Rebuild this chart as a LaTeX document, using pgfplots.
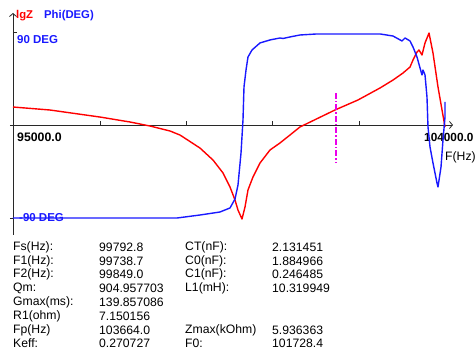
\documentclass[border=0pt]{standalone}
\usepackage{fontspec}
\setmainfont{Liberation Sans}
\usepackage{pgfplots}
\pgfplotsset{compat=1.18}
\usetikzlibrary{arrows.meta}
\definecolor{zred}{RGB}{255,0,0}
\definecolor{pblue}{RGB}{25,25,255}
\definecolor{mag}{RGB}{235,0,235}
\definecolor{axgray}{RGB}{40,40,40}
\tikzset{dt/.style={anchor=west,inner sep=0pt,font=\fontsize{12.2}{14}\selectfont}}
\begin{document}
\begin{tikzpicture}
\begin{axis}[width=475pt,height=351pt,scale only axis,
  xmin=94729.5,xmax=104614.2,ymin=-218.7,ymax=120.96,
  hide axis,clip=false]
\coordinate (sw) at (rel axis cs:0,0);
\coordinate (ne) at (rel axis cs:1,1);
% axes
\draw[axgray,line width=0.8pt,-{Straight Barb[length=3pt,width=7pt]}] (rel axis cs:10/475,1-125/351) -- (rel axis cs:453/475,1-125/351);
\draw[axgray,line width=0.8pt,-{Straight Barb[length=3pt,width=7pt]}] (rel axis cs:13/475,1-235/351) -- (rel axis cs:13/475,1-13/351);
\draw[axgray,line width=0.8pt] (rel axis cs:100/475,1-125/351) -- (rel axis cs:100/475,1-121/351);
\draw[axgray,line width=0.8pt] (rel axis cs:186/475,1-125/351) -- (rel axis cs:186/475,1-121/351);
\draw[axgray,line width=0.8pt] (rel axis cs:272/475,1-125/351) -- (rel axis cs:272/475,1-121/351);
\draw[axgray,line width=0.8pt] (rel axis cs:359/475,1-125/351) -- (rel axis cs:359/475,1-121/351);
\draw[axgray,line width=0.8pt] (rel axis cs:13/475,1-32/351) -- (rel axis cs:17/475,1-32/351);
\draw[axgray,line width=0.8pt] (rel axis cs:10/475,1-218/351) -- (rel axis cs:13/475,1-218/351);
% labels
\node[dt,text=zred,font=\fontsize{11.3}{13}\selectfont\bfseries] at (rel axis cs:16/475,1-16/351) {lgZ};
\node[dt,text=pblue,font=\fontsize{11.3}{13}\selectfont\bfseries] at (rel axis cs:44/475,1-16/351) {Phi(DEG)};
\node[dt,text=pblue,font=\fontsize{11.5}{13}\selectfont\bfseries] at (rel axis cs:17/475,1-40/351) {90 DEG};
\node[dt,text=pblue,font=\fontsize{11.5}{13}\selectfont\bfseries] at (rel axis cs:19/475,1-218/351) {-90 DEG};
\node[dt,font=\fontsize{12.3}{14}\selectfont\bfseries] at (rel axis cs:17/475,1-137/351) {95000.0};
\node[dt,font=\fontsize{11.8}{14}\selectfont\bfseries] at (rel axis cs:424/475,1-137/351) {104000.0};
\node[dt] at (rel axis cs:445/475,1-157/351) {F(Hz)};
% data table
\node[dt] at (rel axis cs:13/475,1-247/351) {Fs(Hz):};
\node[dt] at (rel axis cs:99/475,1-247/351) {99792.8};
\node[dt] at (rel axis cs:185/475,1-247/351) {CT(nF):};
\node[dt] at (rel axis cs:272/475,1-247/351) {2.131451};
\node[dt] at (rel axis cs:13/475,1-261/351) {F1(Hz):};
\node[dt] at (rel axis cs:99/475,1-261/351) {99738.7};
\node[dt] at (rel axis cs:185/475,1-261/351) {C0(nF):};
\node[dt] at (rel axis cs:272/475,1-261/351) {1.884966};
\node[dt] at (rel axis cs:13/475,1-274/351) {F2(Hz):};
\node[dt] at (rel axis cs:99/475,1-274/351) {99849.0};
\node[dt] at (rel axis cs:185/475,1-274/351) {C1(nF):};
\node[dt] at (rel axis cs:272/475,1-274/351) {0.246485};
\node[dt] at (rel axis cs:13/475,1-288/351) {Qm:};
\node[dt] at (rel axis cs:99/475,1-288/351) {904.957703};
\node[dt] at (rel axis cs:185/475,1-288/351) {L1(mH):};
\node[dt] at (rel axis cs:272/475,1-288/351) {10.319949};
\node[dt] at (rel axis cs:13/475,1-302/351) {Gmax(ms):};
\node[dt] at (rel axis cs:99/475,1-302/351) {139.857086};
\node[dt] at (rel axis cs:13/475,1-316/351) {R1(ohm)};
\node[dt] at (rel axis cs:99/475,1-316/351) {7.150156};
\node[dt] at (rel axis cs:13/475,1-330/351) {Fp(Hz)};
\node[dt] at (rel axis cs:99/475,1-330/351) {103664.0};
\node[dt] at (rel axis cs:185/475,1-330/351) {Zmax(kOhm)};
\node[dt] at (rel axis cs:272/475,1-330/351) {5.936363};
\node[dt] at (rel axis cs:13/475,1-343/351) {Keff:};
\node[dt] at (rel axis cs:99/475,1-343/351) {0.270727};
\node[dt] at (rel axis cs:185/475,1-343/351) {F0:};
\node[dt] at (rel axis cs:272/475,1-343/351) {101728.4};
% lgZ (red)
\addplot[zred,line width=1.4pt,line join=round] coordinates {
(95000,17.4) (95770,14.5) (96810,7.7) (97435,2.9) (97851,-1.0) (98267,-5.8)
(98475,-9.7) (98891,-22.3) (99162,-33.9) (99370,-46.4) (99516,-60.0)
(99620,-72.6) (99682,-82.3) (99765,-91.0) (99828,-79.4) (99890,-62.9)
(99994,-50.3) (100140,-36.8) (100348,-24.2) (100556,-17.4) (100764,-9.7)
(100972,-1.9) (101700,14.5) (102179,24.2) (102637,35.8) (102908,43.5)
(103116,50.3) (103262,56.1) (103324,62.9) (103407,70.6) (103449,72.6)
(103511,67.7) (103574,79.4) (103657,89.0) (103740,69.7) (103844,36.8)
(103928,14.5) (103990,-1.9)};
% Phi (blue)
\addplot[pblue,line width=1.4pt,line join=round] coordinates {
(95000,-90.0) (98413,-90.0) (98891,-87.1) (99307,-84.2) (99516,-80.3)
(99620,-71.6) (99682,-58.1) (99745,-27.1) (99786,4.8) (99807,36.8)
(99849,53.2) (99890,65.8) (99974,72.6) (100140,79.4) (100348,82.3)
(100556,84.2) (100619,83.7) (100764,85.2) (100972,87.1) (101326,88.1)
(102637,88.1) (102908,86.1) (103095,81.3) (103158,84.2) (103262,81.3)
(103324,75.5) (103407,65.8) (103470,55.2) (103511,48.4) (103532,53.2)
(103574,48.4) (103615,27.1) (103636,-1.9) (103678,-21.3) (103740,-36.8)
(103823,-56.1) (103844,-60.0) (103907,-40.6) (103948,-14.5) (103990,7.7)
(103990,22.3)};
% F0 marker
\addplot[mag,line width=1.2pt,dash pattern=on 6pt off 2pt on 1.5pt off 2pt] coordinates {(101721,31.0) (101721,-35.8)};
\end{axis}
\pgfresetboundingbox
\path (sw) rectangle (ne);
\end{tikzpicture}
\end{document}
